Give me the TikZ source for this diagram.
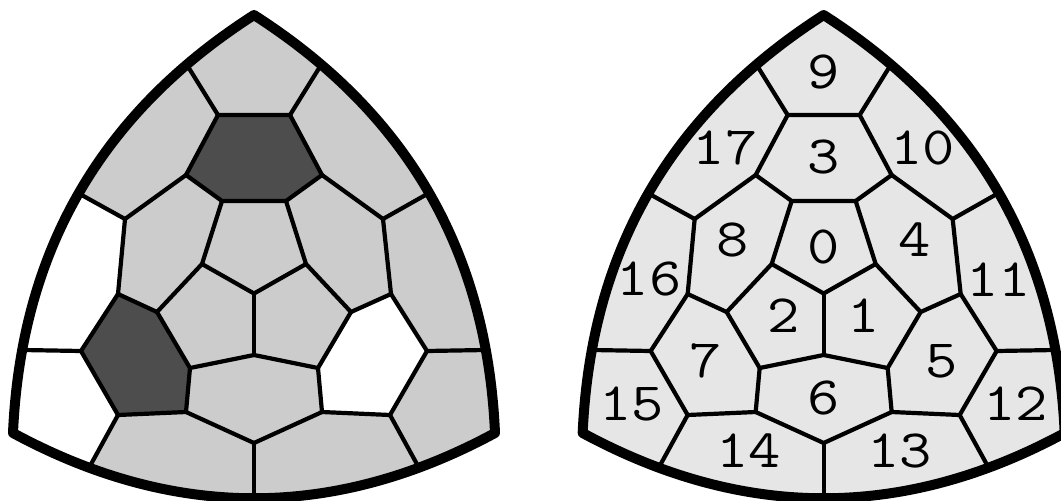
\documentclass[tikz,border=0pt]{standalone}
\usepackage{fontspec}
\usepackage{graphicx}
\definecolor{cellgrey}{HTML}{CCCCCC}
\definecolor{celldark}{HTML}{4D4D4D}
\definecolor{celllight}{HTML}{E6E6E6}
\tikzset{
  edgeline/.style={draw=black,line width=4.2pt,line join=round,line cap=round},
  rimline/.style={draw=black,line width=10pt,line join=round},
  numlabel/.style={font=\fontsize{54}{54}\selectfont\ttfamily,inner sep=0pt,text=black,anchor=center}
}
\newcommand{\Wide}[1]{\scalebox{1.16}[1]{#1}}
\newcommand{\RimPath}{(T) .. controls (407,113) and (487,251) .. (R)
  .. controls (334,520) and (174,520) .. (L)
  .. controls (21,251) and (101,113) .. (T) -- cycle}
\newcommand{\GridPoints}{%
  \coordinate (T) at (254,15); \coordinate (R) at (495,433); \coordinate (L) at (13,433);
  \coordinate (c) at (254,293.5); \coordinate (pr) at (306,264); \coordinate (pl) at (202,264);
  \coordinate (ul) at (222,201); \coordinate (ur) at (286,201);
  \coordinate (ml) at (186,175); \coordinate (mr) at (322,175);
  \coordinate (tl) at (218,115); \coordinate (tr) at (290,115);
  \coordinate (btl) at (187,65); \coordinate (btr) at (321,65);
  \coordinate (al) at (125,219); \coordinate (ar) at (383,219);
  \coordinate (bal) at (78,193); \coordinate (bar) at (429,193);
  \coordinate (dl) at (118,294); \coordinate (dr) at (391,294);
  \coordinate (el) at (157,312); \coordinate (er) at (351,312);
  \coordinate (f) at (254,355);
  \coordinate (gl) at (190,368); \coordinate (gr) at (318,368);
  \coordinate (hl) at (81,351); \coordinate (hr) at (427,351);
  \coordinate (bhl) at (23,350); \coordinate (bhr) at (485,350);
  \coordinate (il) at (118,415); \coordinate (ir) at (390,415);
  \coordinate (jl) at (186,412); \coordinate (jr) at (322,412);
  \coordinate (k) at (254,443); \coordinate (bk) at (254,499);
  \coordinate (bil) at (90,466); \coordinate (bir) at (418,466);
}
\newcommand{\GridEdges}{%
  \draw[edgeline] (btl) -- (tl) -- (tr) -- (btr);
  \draw[edgeline] (tl) -- (ml) -- (ul) -- (ur) -- (mr) -- (tr);
  \draw[edgeline] (bal) -- (al) -- (ml);
  \draw[edgeline] (bar) -- (ar) -- (mr);
  \draw[edgeline] (al) -- (dl) -- (el) -- (pl) -- (ul);
  \draw[edgeline] (ar) -- (dr) -- (er) -- (pr) -- (ur);
  \draw[edgeline] (pl) -- (c) -- (pr);
  \draw[edgeline] (c) -- (f);
  \draw[edgeline] (el) -- (gl) -- (f) -- (gr) -- (er);
  \draw[edgeline] (dl) -- (hl) -- (il) -- (jl) -- (gl);
  \draw[edgeline] (dr) -- (hr) -- (ir) -- (jr) -- (gr);
  \draw[edgeline] (bhl) -- (hl);
  \draw[edgeline] (bhr) -- (hr);
  \draw[edgeline] (jl) -- (k) -- (jr);
  \draw[edgeline] (k) -- (bk);
  \draw[edgeline] (il) -- (bil);
  \draw[edgeline] (ir) -- (bir);
}
\begin{document}
\begin{tikzpicture}[x=1pt,y=-1pt]
\useasboundingbox (0,0) rectangle (1061,501);
\clip (0,0) rectangle (1061,501);
% left panel
\begin{scope}
  \GridPoints
  \fill[cellgrey] \RimPath;
  \begin{scope}
    \clip \RimPath;
    \fill[white] (bal) -- (al) -- (dl) -- (hl) -- (bhl) -- (0,350) -- (0,193) -- cycle;
    \fill[white] (bhl) -- (hl) -- (il) -- (bil) -- (60,490) -- (0,490) -- (0,350) -- cycle;
    \fill[white] (dr) -- (hr) -- (ir) -- (jr) -- (gr) -- (er) -- cycle;
    \fill[celldark] (tl) -- (tr) -- (mr) -- (ur) -- (ul) -- (ml) -- cycle;
    \fill[celldark] (dl) -- (el) -- (gl) -- (jl) -- (il) -- (hl) -- cycle;
  \end{scope}
  \GridEdges
  \draw[rimline] \RimPath;
\end{scope}
% right panel
\begin{scope}[xshift=569.67pt]
  \GridPoints
  \fill[celllight] \RimPath;
  \GridEdges
  \draw[rimline] \RimPath;
\end{scope}
\node[numlabel] (n9) at (823.7,71.7) {\Wide{9}};
\node[numlabel] (n17) at (725,148) {\Wide{17}};
\node[numlabel] (n10) at (922.3,148) {\Wide{10}};
\node[numlabel] (n3) at (823.7,156.7) {\Wide{3}};
\node[numlabel] (n8) at (732.7,240) {\Wide{8}};
\node[numlabel] (n0) at (823.7,246.7) {\Wide{0}};
\node[numlabel] (n4) at (915,240) {\Wide{4}};
\node[numlabel] (n16) at (649,279.3) {\Wide{16}};
\node[numlabel] (n11) at (998.3,279.3) {\Wide{11}};
\node[numlabel] (n2) at (783.3,316) {\Wide{2}};
\node[numlabel] (n1) at (863.3,316) {\Wide{1}};
\node[numlabel] (n7) at (705.7,361) {\Wide{7}};
\node[numlabel] (n5) at (941.7,361) {\Wide{5}};
\node[numlabel] (n6) at (823.7,398.3) {\Wide{6}};
\node[numlabel] (n15) at (631.7,404) {\Wide{15}};
\node[numlabel] (n12) at (1015.7,404) {\Wide{12}};
\node[numlabel] (n14) at (748.3,450.7) {\Wide{14}};
\node[numlabel] (n13) at (899.3,450.7) {\Wide{13}};
\end{tikzpicture}
\end{document}
